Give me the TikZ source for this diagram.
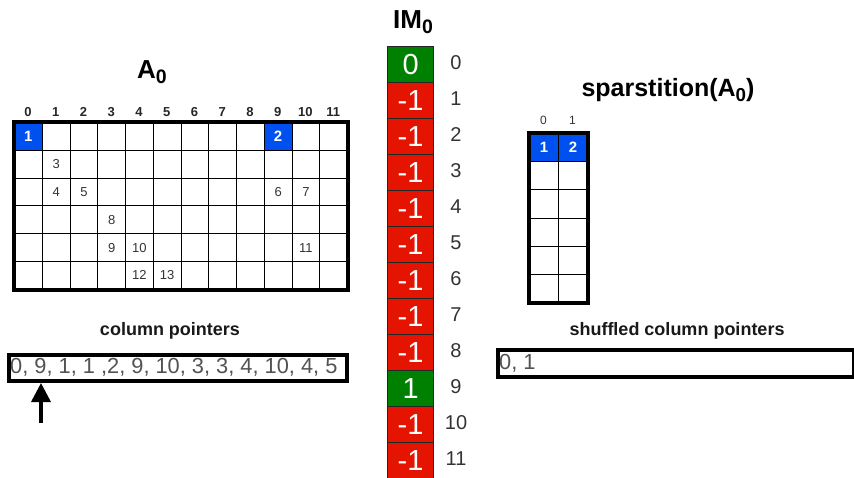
\documentclass[tikz,border=0pt]{standalone}
\usepackage{fontspec}
\setmainfont{Liberation Sans}
\usetikzlibrary{arrows.meta}
\definecolor{cblue}{HTML}{0050EF}
\definecolor{cred}{HTML}{E51400}
\definecolor{cgreen}{HTML}{008000}
\definecolor{ctext}{HTML}{333333}
\newcommand\lowsub[1]{\raisebox{-0.35ex}{\scalebox{0.75}{#1}}}
\newcommand\fs[1]{\fontsize{#1}{#1}\selectfont}
\begin{document}
\begin{tikzpicture}[x=1pt,y=-1pt,
  cell/.style={draw=black, line width=1pt, minimum width=27.75pt, minimum height=27.8pt, inner sep=0pt, anchor=north west},
  scell/.style={draw=black, line width=1pt, minimum width=29pt, minimum height=28.2pt, inner sep=0pt, anchor=north west},
  num/.style={font=\fs{13}, text=ctext, inner sep=0pt},
  bnum/.style={font=\bfseries\fs{15}, text=white, inner sep=0pt},
  collab/.style={font=\bfseries\fs{13}, text=black!85, inner sep=0pt},
  imcell/.style={draw=black!85, line width=1.2pt, minimum width=46pt, minimum height=36pt, inner sep=0pt, anchor=north west, text=white, font=\fs{29}},
  idx/.style={font=\fs{20}, text=ctext, inner sep=0pt},
  title/.style={font=\bfseries\fs{26}, inner sep=0pt},
  label/.style={font=\bfseries\fs{18}, text=black!90, inner sep=0pt},
  ptrbox/.style={draw=black, line width=3.5pt, inner sep=0pt, anchor=north west},
  ptrtext/.style={font=\fs{21.8}, text=ctext!85, inner sep=0pt, anchor=west}
]
\useasboundingbox (0,0) rectangle (854,477);
\clip (0,0) rectangle (854,477);

% ---------- A0 ----------
\node[title] (tA) at (152,72) {A\lowsub{0}};
\foreach \c in {0,...,11}
  \node[collab] (ac\c) at ({14+(\c+0.5)*27.75},112) {\c};
\foreach \r in {0,...,5}
  \foreach \c in {0,...,11}
    \node[cell] (a-\r-\c) at ({14+\c*27.75},{122+\r*27.8}) {};
\node[cell, fill=cblue] (b-0-0) at (14,122) {};
\node[cell, fill=cblue] (b-0-9) at ({14+9*27.75},122) {};
\node[bnum] (v1) at (b-0-0.center) {1};
\node[bnum] (v2) at (b-0-9.center) {2};
\foreach \r/\c/\v in {1/1/3, 2/1/4, 2/2/5, 2/9/6, 2/10/7, 3/3/8, 4/3/9, 4/4/10, 4/10/11, 5/4/12, 5/5/13}
  \node[num] (v\v) at (a-\r-\c.center) {\v};
\draw[line width=3.5pt] (a-0-0.north west) rectangle (a-5-11.south east);

% ---------- column pointers ----------
\node[label] (lcp) at (170,331) {column pointers};
\node[ptrbox, minimum width=338pt, minimum height=26pt] (cp) at (7,353) {};
\node[ptrtext] (cpt) at ([xshift=3pt]cp.west) {0, 9, 1, 1 ,2, 9, 10, 3, 3, 4, 10, 4, 5};
\coordinate (arrS) at (41,423);
\coordinate (arrT) at (41,383);
\draw[line width=3.5pt, -{Triangle[width=19pt,length=19pt]}] (arrS) -- (arrT);

% ---------- IM0 ----------
\node[title] (tIM) at (413,22) {IM\lowsub{0}};
\foreach \i/\v/\col in {0/0/cgreen, 1/-1/cred, 2/-1/cred, 3/-1/cred, 4/-1/cred, 5/-1/cred, 6/-1/cred, 7/-1/cred, 8/-1/cred, 9/1/cgreen, 10/-1/cred, 11/-1/cred}{
  \node[imcell, fill=\col] (im\i) at (387,{46+\i*36}) {\v};
  \node[idx] (ix\i) at (456,{63+\i*36}) {\i};
}

% ---------- sparstition ----------
\node[title, font=\bfseries\fs{25}] (tS) at (668,90) {sparstition(A\lowsub{0})};
\node[font=\fs{12}, text=ctext, inner sep=0pt] (sc0) at (543.5,120) {0};
\node[font=\fs{12}, text=ctext, inner sep=0pt] (sc1) at (572.5,120) {1};
\foreach \r in {0,...,5}
  \foreach \c in {0,1}
    \node[scell] (s-\r-\c) at ({529+\c*29},{133+\r*28.2}) {};
\node[scell, fill=cblue] (sb0) at (529,133) {};
\node[scell, fill=cblue] (sb1) at (558,133) {};
\node[bnum] (sv1) at (sb0.center) {1};
\node[bnum] (sv2) at (sb1.center) {2};
\draw[line width=3.5pt] (s-0-0.north west) rectangle (s-5-1.south east);

% ---------- shuffled column pointers ----------
\node[label] (lscp) at (677,331) {shuffled column pointers};
\node[ptrbox, minimum width=356pt, minimum height=27pt] (scp) at (496,348) {};
\node[ptrtext] (scpt) at ([xshift=3pt]scp.west) {0, 1};
\end{tikzpicture}
\end{document}
